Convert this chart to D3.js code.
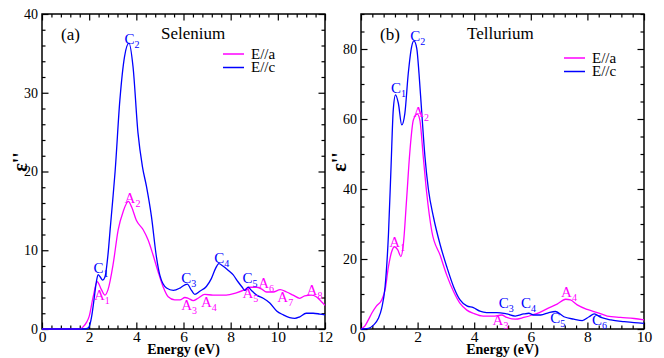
<!DOCTYPE html>
<html>
<head>
<meta charset="utf-8">
<script src="https://cdn.jsdelivr.net/npm/d3@7"></script>
<style>
  body { margin: 0; background: #fff; }
</style>
</head>
<body>
<svg id="chart" width="664" height="358"></svg>
<script>
// Selenium, E//c
const seEnergyC = [0, 1.8, 1.95, 2.0, 2.1, 2.2, 2.3, 2.38, 2.47, 2.57, 2.67, 2.8, 2.9, 3.0, 3.1, 3.3, 3.5, 3.69, 3.86, 4.07, 4.26, 4.43, 4.64, 4.85, 5.0, 5.28, 5.57, 5.85, 6.06, 6.16, 6.34, 6.48, 6.69, 6.97, 7.18, 7.36, 7.5, 7.67, 7.88, 8.1, 8.31, 8.49, 8.6, 8.74, 8.88, 9.1, 9.38, 9.66, 9.95, 10.23, 10.5, 10.72, 10.93, 11.2, 11.5, 11.78, 12.0];
const seEpsC = [0, 0, 0.1, 0.3, 1.5, 3.6, 5.9, 6.9, 6.6, 6.2, 6.6, 9.5, 13, 16.4, 20, 29, 34.6, 36.3, 33.3, 24.9, 20.6, 18.1, 14.3, 9.2, 6.8, 5.2, 4.9, 5.2, 5.6, 5.7, 4.9, 4.4, 4.8, 5.4, 6.4, 7.7, 8.3, 8.0, 7.5, 6.9, 6.0, 5.3, 4.9, 5.3, 4.9, 4.3, 3.9, 3.3, 2.3, 1.8, 1.45, 1.35, 1.55, 2.0, 2.0, 1.9, 1.8];

// Selenium, E//a
const seEnergyA = [0, 1.6, 1.75, 1.9, 2.0, 2.17, 2.34, 2.52, 2.67, 2.8, 3.02, 3.23, 3.44, 3.66, 3.8, 4.0, 4.29, 4.5, 4.71, 4.92, 5.13, 5.35, 5.63, 5.85, 6.06, 6.2, 6.41, 6.62, 6.9, 7.25, 7.81, 8.24, 8.6, 8.8, 9.1, 9.3, 9.52, 9.8, 10.1, 10.37, 10.65, 10.93, 11.14, 11.42, 11.63, 11.84, 12.0];
const seEpsA = [0, 0, 0.3, 0.9, 1.6, 4.1, 6.0, 5.0, 4.3, 5.0, 8.3, 12.6, 14.9, 16.2, 15.5, 13.8, 12.6, 11.3, 9.4, 7.3, 5.4, 4.1, 3.7, 3.7, 4.0, 3.9, 3.6, 3.9, 4.4, 4.3, 4.3, 4.6, 5.0, 5.3, 5.3, 5.1, 4.7, 4.7, 5.0, 4.7, 4.3, 3.9, 4.2, 4.3, 4.1, 3.5, 3.0];

// Tellurium, E//c
const teEnergyC = [0, 0.26, 0.44, 0.61, 0.73, 0.85, 0.97, 1.06, 1.14, 1.22, 1.32, 1.44, 1.55, 1.67, 1.79, 1.87, 1.97, 2.05, 2.14, 2.26, 2.38, 2.56, 2.8, 3.03, 3.27, 3.5, 3.74, 3.97, 4.2, 4.44, 4.8, 5.15, 5.45, 5.75, 5.93, 6.1, 6.35, 6.64, 6.87, 7.17, 7.52, 7.82, 8.06, 8.24, 8.48, 8.83, 9.3, 9.65, 10.0];
const teEpsC = [0, 0.2, 1.1, 3.0, 5.9, 12, 27, 46, 62.6, 66.9, 64.5, 58.3, 61.6, 73, 80.7, 82.3, 80.2, 73, 62.6, 49.2, 40, 32, 24, 17.8, 12.1, 8.3, 6.6, 6.1, 5.1, 4.7, 4.7, 4.3, 3.7, 4.3, 4.5, 4.0, 4.0, 4.7, 5.0, 3.5, 2.8, 2.4, 3.5, 4.3, 3.3, 2.6, 2.1, 1.8, 1.6];

// Tellurium, E//a
const teEnergyA = [0, 0.14, 0.26, 0.38, 0.55, 0.73, 0.85, 0.97, 1.08, 1.18, 1.3, 1.41, 1.5, 1.61, 1.73, 1.85, 1.99, 2.08, 2.2, 2.32, 2.5, 2.8, 3.03, 3.27, 3.5, 3.74, 3.97, 4.32, 4.67, 4.97, 5.15, 5.45, 5.75, 6.05, 6.3, 6.6, 6.93, 7.23, 7.4, 7.64, 7.99, 8.35, 8.7, 9.17, 9.65, 10.0];
const teEpsA = [0, 0.9, 2.6, 4.5, 6.6, 8.3, 11.1, 17.8, 22, 23.5, 22.6, 20.7, 24.5, 36.9, 51, 59.7, 61.4, 59.7, 49.2, 39, 28, 21, 15.4, 10.7, 7.3, 5.4, 4.5, 3.7, 3.7, 4.0, 3.3, 2.8, 3.3, 4.0, 4.7, 5.9, 7.1, 8.5, 8.3, 6.9, 5.6, 4.7, 3.7, 3.3, 3.0, 2.6];

// peak labels: letter, subscript, energy, eps, series
const seLabels = [
  ['C', '1', 2.18, 7.1, 'c'], ['A', '1', 2.2, 3.7, 'a'],
  ['C', '2', 3.5, 36.25, 'c'], ['A', '2', 3.5, 16.0, 'a'],
  ['C', '3', 5.9, 5.85, 'c'], ['A', '3', 5.9, 2.4, 'a'],
  ['A', '4', 6.74, 2.8, 'a'], ['C', '4', 7.3, 8.4, 'c'],
  ['C', '5', 8.5, 5.85, 'c'], ['A', '5', 8.5, 3.9, 'a'],
  ['A', '6', 9.17, 5.2, 'a'], ['A', '7', 9.98, 3.4, 'a'],
  ['A', '8', 11.22, 4.3, 'a']
];
const teLabels = [
  ['C', '1', 1.06, 67.4, 'c'], ['C', '2', 1.74, 82.3, 'c'],
  ['A', '2', 1.84, 60.6, 'a'], ['A', '1', 1.0, 23.4, 'a'],
  ['C', '3', 4.87, 6.0, 'c'], ['C', '4', 5.65, 6.0, 'c'],
  ['A', '3', 4.65, 1.1, 'a'], ['C', '5', 6.69, 1.7, 'c'],
  ['A', '4', 7.07, 9.1, 'a'], ['C', '6', 8.16, 1.1, 'c']
];

const seXTicks = [0, 2, 4, 6, 8, 10, 12];
const seYTicks = [0, 10, 20, 30, 40];
const teXTicks = [0, 2, 4, 6, 8, 10];
const teYTicks = [0, 20, 40, 60, 80];
const legendNames = ['E//a', 'E//c'];

const color = { a: '#ff00ff', c: '#0000ff' };
const plotTop = 14, plotBottom = 329;

const svg = d3.select('#chart');

function styleAxis(g, size) {
  g.select('.domain').remove();
  g.selectAll('line').attr('stroke', '#000').attr('stroke-width', 1.2);
  g.selectAll('text').attr('font-size', size).attr('fill', '#000');
}

function drawPanel(p) {
  const x = d3.scaleLinear().domain(p.xDomain).range([p.left, p.right]);
  const y = d3.scaleLinear().domain(p.yDomain).range([plotBottom, plotTop]);
  const xMinor = d3.range(p.xDomain[0], p.xDomain[1] + 0.01, 0.4).filter(v => Math.abs(v / 2 - Math.round(v / 2)) > 0.01);
  const yMinor = d3.range(p.yDomain[0], p.yDomain[1] + 0.01, p.yMinorStep).filter(v => !p.yTicks.includes(v));

  const g = svg.append('g');

  // ticks on all four sides, pointing in
  const axes = [
    [d3.axisBottom, `translate(0,${plotBottom})`, x, p.xTicks, xMinor, true],
    [d3.axisTop, `translate(0,${plotTop})`, x, p.xTicks, xMinor, false],
    [d3.axisLeft, `translate(${p.left},0)`, y, p.yTicks, yMinor, true],
    [d3.axisRight, `translate(${p.right},0)`, y, p.yTicks, yMinor, false]
  ];
  axes.forEach(([axis, tr, sc, major, minor, labelled], i) => {
    g.append('g').attr('transform', tr)
      .call(axis(sc).tickValues(minor).tickSize(-3.5).tickSizeOuter(0).tickFormat(''))
      .call(a => styleAxis(a, 14));
    g.append('g').attr('transform', tr)
      .call(axis(sc).tickValues(major).tickSize(-6.5).tickSizeOuter(0)
        .tickPadding(i === 0 ? 2 : 4).tickFormat(labelled ? d3.format('d') : ''))
      .call(a => styleAxis(a, i === 0 ? 15.5 : 14));
  });

  g.append('rect')
    .attr('x', p.left).attr('y', plotTop)
    .attr('width', p.right - p.left).attr('height', plotBottom - plotTop)
    .attr('fill', 'none').attr('stroke', '#000').attr('stroke-width', 1.5);

  const line = d3.line()
    .x(d => x(d[0]))
    .y(d => y(d[1]))
    .curve(d3.curveMonotoneX);

  g.append('path')
    .datum(d3.zip(p.energyA, p.epsA))
    .attr('d', line)
    .attr('fill', 'none').attr('stroke', color.a).attr('stroke-width', 1.3);

  g.append('path')
    .datum(d3.zip(p.energyC, p.epsC))
    .attr('d', line)
    .attr('fill', 'none').attr('stroke', color.c).attr('stroke-width', 1.3);

  // peak labels
  const lab = g.selectAll('.peak')
    .data(p.labels)
    .enter().append('text')
    .attr('class', 'peak')
    .attr('x', d => x(d[2]))
    .attr('y', d => y(d[3]))
    .attr('fill', d => color[d[4]])
    .attr('font-size', 15)
    .text(d => d[0]);
  lab.append('tspan')
    .attr('font-size', 10)
    .attr('dy', 4)
    .text(d => d[1]);

  // titles
  g.append('text')
    .attr('x', p.left + 19).attr('y', 40)
    .attr('font-size', 17)
    .text(p.tag);
  g.append('text')
    .attr('x', p.titleX).attr('y', 38.5)
    .attr('font-size', 17)
    .text(p.title);

  g.append('text')
    .attr('x', (p.left + p.right) / 2).attr('y', 354)
    .attr('text-anchor', 'middle')
    .attr('font-size', 14).attr('font-weight', 'bold')
    .text('Energy (eV)');

  g.append('text')
    .attr('transform', `translate(${p.left - 22},${162}) rotate(-90)`)
    .attr('text-anchor', 'middle')
    .attr('dy', '0.35em')
    .attr('font-size', 20).attr('font-weight', 'bold')
    .text("\u03b5''");

  // legend
  const leg = g.selectAll('.leg')
    .data(legendNames)
    .enter().append('g')
    .attr('class', 'leg')
    .attr('transform', (d, i) => `translate(${p.legendX},${p.legendY + i * 13.5})`);
  leg.append('line')
    .attr('x1', 0).attr('x2', 21)
    .attr('stroke', (d, i) => i === 0 ? color.a : color.c)
    .attr('stroke-width', 1.5);
  leg.append('text')
    .attr('x', 28).attr('y', 0)
    .attr('dy', '0.33em')
    .attr('font-size', 15)
    .text(d => d);
}

drawPanel({
  left: 42, right: 325,
  xDomain: [0, 12], yDomain: [0, 40], yMinorStep: 2,
  xTicks: seXTicks, yTicks: seYTicks,
  energyA: seEnergyA, epsA: seEpsA, energyC: seEnergyC, epsC: seEpsC,
  labels: seLabels,
  tag: '(a)', title: 'Selenium', titleX: 161,
  legendX: 223, legendY: 54
});

drawPanel({
  left: 361, right: 644,
  xDomain: [0, 10], yDomain: [0, 90], yMinorStep: 5,
  xTicks: teXTicks, yTicks: teYTicks,
  energyA: teEnergyA, epsA: teEpsA, energyC: teEnergyC, epsC: teEpsC,
  labels: teLabels,
  tag: '(b)', title: 'Tellurium', titleX: 467,
  legendX: 564, legendY: 58
});

// serif everywhere, set inline so the axis defaults don't win
svg.selectAll('text').style('font-family', '"Liberation Serif"');
</script>
</body>
</html>
